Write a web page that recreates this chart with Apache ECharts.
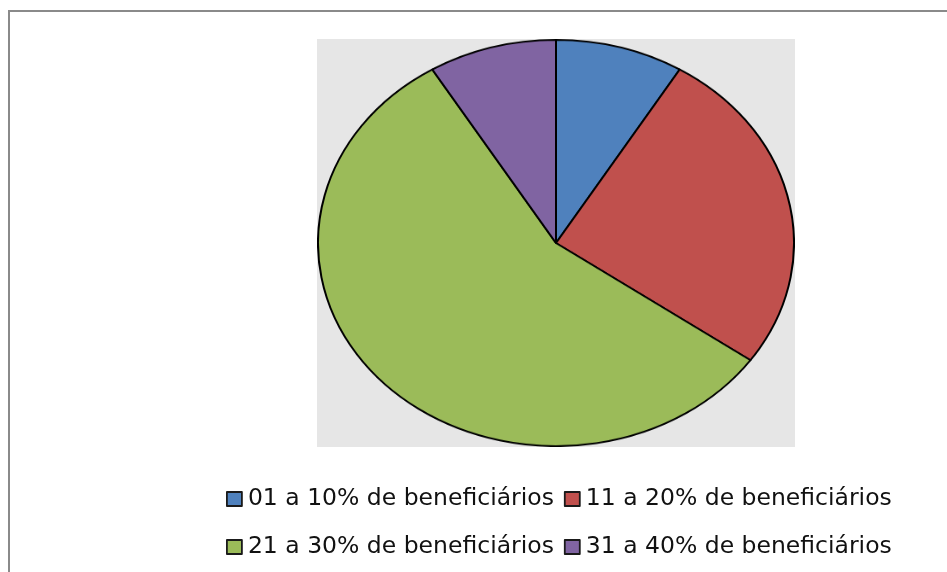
<!DOCTYPE html>
<html>
<head>
<meta charset="utf-8">
<script src="https://cdn.jsdelivr.net/npm/echarts@6/dist/echarts.min.js"></script>
<style>
  html, body { margin: 0; padding: 0; background: #fff; }
  #frame { position: absolute; left: 0; top: 0; width: 947px; height: 572px; }
  #pie { position: absolute; left: 317px; top: 39px; width: 478px; height: 478px;
         transform-origin: 0 0; transform: scaleY(0.8536); }
</style>
</head>
<body>
<div id="frame"></div>
<div id="pie"></div>
<script>
// share of municipalities by range of beneficiaries
const categories = [
  '01 a 10% de beneficiários',
  '11 a 20% de beneficiários',
  '21 a 30% de beneficiários',
  '31 a 40% de beneficiários'
]
const values = [2, 6, 13, 2]
const colors = ['#4F81BD', '#C0504D', '#9BBB59', '#8064A2']

const pieData = categories.map((name, i) => ({
  name: name,
  value: values[i],
  itemStyle: { color: colors[i] }
}))

// frame chart: border, grey plot area and the legend
var frameChart = echarts.init(document.getElementById('frame'))
const legendBase = {
  orient: 'horizontal',
  left: 221,
  icon: 'rect',
  itemWidth: 15,
  itemHeight: 14,
  itemGap: 10,
  itemStyle: { borderColor: '#1a1a1a', borderWidth: 1.8 },
  textStyle: { fontFamily: 'DejaVu Sans', fontSize: 23.5, color: '#111', padding: [0, 0, 0, 1] }
}
frameChart.setOption({
  animation: false,
  graphic: [
    {
      type: 'rect',
      shape: { x: 9, y: 11, width: 960, height: 600 },
      style: { fill: '#fff', stroke: '#8a8a8a', lineWidth: 2 }
    },
    {
      type: 'rect',
      shape: { x: 317, y: 39, width: 478, height: 408 },
      style: { fill: '#e6e6e6' }
    }
  ],
  legend: [
    Object.assign({}, legendBase, { top: 482, data: categories.slice(0, 2) }),
    Object.assign({}, legendBase, { top: 530, data: categories.slice(2, 4) })
  ],
  series: [
    {
      // invisible copy so the legend gets its colours
      type: 'pie',
      radius: 0,
      silent: true,
      label: { show: false },
      data: pieData
    }
  ]
})

// the pie itself, squashed vertically with css into an ellipse
var pieChart = echarts.init(document.getElementById('pie'))
pieChart.setOption({
  animation: false,
  series: [
    {
      type: 'pie',
      center: ['50%', '50%'],
      radius: [0, 238],
      startAngle: 90,
      clockwise: true,
      label: { show: false },
      labelLine: { show: false },
      itemStyle: { borderColor: '#000', borderWidth: 2 },
      data: pieData
    }
  ]
})
</script>
</body>
</html>
